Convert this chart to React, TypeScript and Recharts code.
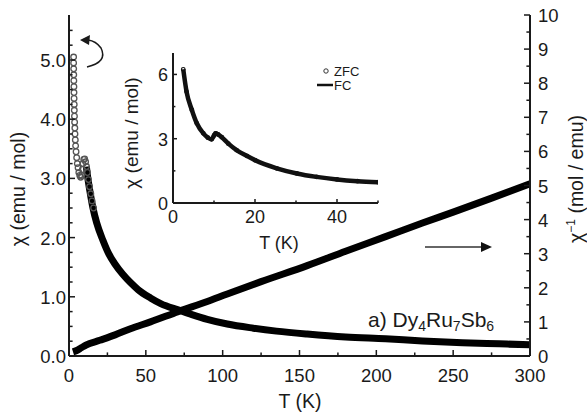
import React from "react";
import {
  ComposedChart,
  Line,
  Scatter,
  XAxis,
  YAxis,
} from "recharts";

// main panel: chi (left axis) vs T
const CHI_T = [11.3, 12, 13.5, 15.6, 18, 22, 26, 30, 35, 40, 45, 53, 60, 71, 80, 90, 103, 120, 135, 155, 180, 206, 230, 256, 280, 300];
const CHI_V = [3.2, 3.05, 2.8, 2.5, 2.25, 1.96, 1.72, 1.55, 1.38, 1.24, 1.12, 0.98, 0.88, 0.78, 0.7, 0.62, 0.54, 0.47, 0.42, 0.37, 0.32, 0.29, 0.255, 0.225, 0.205, 0.19];

// low temperature open circles
const LOW_T = [3.0, 3.0, 3.05, 3.1, 3.15, 3.2, 3.25, 3.3, 3.4, 3.45, 3.55, 3.65, 3.8, 3.9, 4.1, 4.3, 4.6, 5.0, 5.4, 5.9, 6.4, 7.0, 7.6, 8.2, 8.7, 9.1, 9.6, 10.2, 10.8, 11.4, 12, 12.7, 13.4, 14.2, 15, 16];
const LOW_V = [5.05, 4.95, 4.85, 4.75, 4.65, 4.55, 4.45, 4.35, 4.25, 4.15, 4.05, 3.95, 3.85, 3.75, 3.65, 3.55, 3.45, 3.35, 3.25, 3.18, 3.1, 3.05, 3.02, 3.05, 3.15, 3.25, 3.32, 3.33, 3.28, 3.2, 3.1, 2.98, 2.86, 2.74, 2.62, 2.5];

// inverse susceptibility (right axis)
const INV_T = [2.6, 5, 8, 11, 20, 30, 40, 53, 71, 90, 103, 125, 155, 180, 206, 230, 250, 275, 300];
const INV_V = [0.12, 0.16, 0.24, 0.32, 0.46, 0.62, 0.8, 1.0, 1.3, 1.6, 1.82, 2.18, 2.65, 3.07, 3.5, 3.9, 4.22, 4.63, 5.05];

// inset: ZFC / FC
const INS_T = [2.5, 3.3, 4.6, 5.8, 7.4, 8.5, 9.4, 10.0, 10.4, 11.0, 11.9, 13.5, 15.5, 18, 20, 25.3, 30.2, 35, 40, 45, 50];
const INS_FC = [6.24, 5.2, 4.34, 3.72, 3.25, 3.05, 2.97, 3.15, 3.25, 3.2, 3.07, 2.77, 2.47, 2.2, 2.0, 1.62, 1.38, 1.22, 1.1, 1.02, 0.97];
const INS_ZFC = [6.24, 5.2, 4.34, 3.72, 3.25, 3.05, 2.97, 3.15, 3.25, 3.2, 3.07, 2.77, 2.47, 2.2, 2.0, 1.62, 1.38, 1.22, 1.1, 1.02, 0.97];

const X_TICKS = [0, 25, 50, 75, 100, 125, 150, 175, 200, 225, 250, 275, 300];
const CHI_TICKS = Array.from({ length: 23 }, (_, i) => i * 0.25);
const INV_TICKS = Array.from({ length: 21 }, (_, i) => i * 0.5);
const INS_X_TICKS = [0, 10, 20, 30, 40, 50];
const INS_Y_TICKS = [0, 1.5, 3, 4.5, 6];

const FONT = "'Liberation Sans', Arial, sans-serif";
const INK = "#1a1a1a";

const chiData = CHI_T.map((T, i) => ({ T, v: CHI_V[i] }));
const lowData = LOW_T.map((T, i) => ({ T, v: LOW_V[i] }));
const invData = INV_T.map((T, i) => ({ T, v: INV_V[i] }));
const fcData = INS_T.map((T, i) => ({ T, v: INS_FC[i] }));
const zfcData = INS_T.map((T, i) => ({ T, v: INS_ZFC[i] }));

const isInt = (v: number, step: number) => Math.abs(v / step - Math.round(v / step)) < 1e-6;

function tickFactory(
  side: "left" | "right" | "bottom",
  step: number,
  fmt: (v: number) => string,
  len: number,
  fs: number,
  gap: number,
) {
  return (props: any) => {
    const { x, y, payload } = props;
    const v = payload.value as number;
    const major = isInt(v, step);
    const l = major ? len : len * 0.6;
    if (side === "bottom") {
      return (
        <g>
          <line x1={x} x2={x} y1={y} y2={y - l} stroke={INK} strokeWidth={1.5} />
          {major && (
            <text x={x} y={y + gap} textAnchor="middle" fontSize={fs} fontFamily={FONT} fill={INK}>
              {fmt(v)}
            </text>
          )}
        </g>
      );
    }
    const dir = side === "left" ? 1 : -1;
    return (
      <g>
        <line x1={x} x2={x + dir * l} y1={y} y2={y} stroke={INK} strokeWidth={1.5} />
        {major && (
          <text
            x={side === "left" ? x - gap : x + gap}
            y={y + fs * 0.38}
            textAnchor={side === "left" ? "end" : "start"}
            fontSize={fs}
            fontFamily={FONT}
            fill={INK}
          >
            {fmt(v)}
          </text>
        )}
      </g>
    );
  };
}

const openCircle = (stroke: string, r: number, sw: number) => (props: any) => (
  <circle cx={props.cx} cy={props.cy} r={r} fill="none" stroke={stroke} strokeWidth={sw} />
);

function Inset() {
  return (
    <div style={{ position: "absolute", left: 120, top: 40 }}>
      <ComposedChart width={270} height={215} margin={{ top: 13, right: 12, bottom: 0, left: 0 }}>
        <XAxis
          dataKey="T"
          type="number"
          domain={[0, 50]}
          ticks={INS_X_TICKS}
          interval={0}
          allowDataOverflow
          height={52}
          tickSize={0}
          tickMargin={0}
          tickLine={false}
          axisLine={{ stroke: INK, strokeWidth: 2 }}
          tick={tickFactory("bottom", 20, (v) => String(v), 4, 18, 20)}
        />
        <XAxis xAxisId="top" orientation="top" type="number" domain={[0, 50]} height={0} tick={false} tickLine={false} axisLine={{ stroke: INK, strokeWidth: 2 }} />
        <YAxis
          yAxisId="c"
          type="number"
          domain={[0, 7]}
          ticks={INS_Y_TICKS}
          interval={0}
          allowDataOverflow
          width={53}
          tickSize={0}
          tickMargin={0}
          tickLine={false}
          axisLine={{ stroke: INK, strokeWidth: 2 }}
          tick={tickFactory("left", 3, (v) => String(v), 4, 18, 5)}
        />
        <YAxis yAxisId="r" orientation="right" type="number" domain={[0, 7]} width={0} tick={false} tickLine={false} axisLine={{ stroke: INK, strokeWidth: 2 }} />
        <Line
          yAxisId="c"
          data={fcData}
          dataKey="v"
          stroke="#111"
          strokeWidth={4.5}
          dot={false}
          type="monotone"
          isAnimationActive={false}
        />
        <Scatter
          yAxisId="c"
          data={zfcData}
          dataKey="v"
          shape={openCircle("#111", 1.8, 1.2)}
          isAnimationActive={false}
        />
        <text x={279 - 120} y={249 - 40} textAnchor="middle" fontSize={18} fontFamily={FONT} fill={INK}>
          T (K)
        </text>
        <text
          transform={`translate(${138 - 120},${133 - 40}) rotate(-90)`}
          textAnchor="middle"
          fontSize={19}
          fontFamily={FONT}
          fill={INK}
        >
          χ (emu / mol)
        </text>
        <circle cx={326 - 120} cy={71 - 40} r={2.2} fill="none" stroke="#333" strokeWidth={1} />
        <text x={334 - 120} y={76 - 40} fontSize={13} fontFamily={FONT} fill={INK}>
          ZFC
        </text>
        <line x1={317 - 120} x2={333 - 120} y1={85 - 40} y2={85 - 40} stroke="#111" strokeWidth={2.5} />
        <text x={334 - 120} y={90 - 40} fontSize={13} fontFamily={FONT} fill={INK}>
          FC
        </text>
      </ComposedChart>
    </div>
  );
}

export default function App() {
  return (
    <div style={{ position: "absolute", left: 0, top: 0, width: 587, height: 418, background: "#fff" }}>
      <ComposedChart width={587} height={418} margin={{ top: 15, right: 0, bottom: 0, left: 0 }}>
        <XAxis
          dataKey="T"
          type="number"
          domain={[0, 300]}
          ticks={X_TICKS}
          interval={0}
          allowDataOverflow
          height={62}
          tickSize={0}
          tickMargin={0}
          tickLine={false}
          axisLine={{ stroke: INK, strokeWidth: 2 }}
          tick={tickFactory("bottom", 50, (v) => String(v), 6, 18.5, 26)}
        />
        <XAxis xAxisId="top" orientation="top" type="number" domain={[0, 300]} height={0} tick={false} tickLine={false} axisLine={{ stroke: INK, strokeWidth: 2 }} />
        <YAxis
          yAxisId="chi"
          type="number"
          domain={[0, 5.76]}
          ticks={CHI_TICKS}
          interval={0}
          allowDataOverflow
          width={69}
          tickSize={0}
          tickMargin={0}
          tickLine={false}
          axisLine={{ stroke: INK, strokeWidth: 2 }}
          tick={tickFactory("left", 1, (v) => v.toFixed(1), 6, 18.5, 3)}
        />
        <YAxis
          yAxisId="inv"
          orientation="right"
          type="number"
          domain={[0, 10]}
          ticks={INV_TICKS}
          interval={0}
          allowDataOverflow
          width={57}
          tickSize={0}
          tickMargin={0}
          tickLine={false}
          axisLine={{ stroke: INK, strokeWidth: 2 }}
          tick={tickFactory("right", 1, (v) => String(v), 6, 18.5, 8)}
        />
        <Line
          yAxisId="inv"
          data={invData}
          dataKey="v"
          stroke="#000"
          strokeWidth={7}
          dot={false}
          type="monotone"
          isAnimationActive={false}
        />
        <Line
          yAxisId="chi"
          data={chiData}
          dataKey="v"
          stroke="#000"
          strokeWidth={7}
          dot={false}
          type="monotone"
          isAnimationActive={false}
        />
        <Scatter
          yAxisId="chi"
          data={lowData}
          dataKey="v"
          shape={openCircle("#555", 2.8, 1.3)}
          isAnimationActive={false}
        />
        {/* axis titles */}
        <text x={300} y={408} textAnchor="middle" fontSize={19.5} fontFamily={FONT} fill={INK}>
          T (K)
        </text>
        <text transform="translate(25,189) rotate(-90)" textAnchor="middle" fontSize={19.5} fontFamily={FONT} fill={INK}>
          χ (emu / mol)
        </text>
        <text transform="translate(583,179) rotate(-90)" textAnchor="middle" fontSize={19.5} fontFamily={FONT} fill={INK}>
          χ
          <tspan fontSize={12} dy={-8}>−1</tspan>
          <tspan dy={8}> (mol / emu)</tspan>
        </text>
        {/* sample label */}
        <text x={368} y={327} fontSize={21} fontFamily={FONT} fill={INK}>
          a) Dy<tspan fontSize={14} dy={4}>4</tspan>
          <tspan dy={-4}>Ru</tspan>
          <tspan fontSize={14} dy={4}>7</tspan>
          <tspan dy={-4}>Sb</tspan>
          <tspan fontSize={14} dy={4}>6</tspan>
        </text>
        {/* arrows */}
        <path d="M 87 67 Q 108 62 101 48 Q 96 41 88 40" fill="none" stroke={INK} strokeWidth={1.5} />
        <polygon points="80,40 90,35 89,45" fill={INK} />
        <line x1={425} x2={484} y1={247} y2={247} stroke="#333" strokeWidth={1.5} />
        <polygon points="492,247 481,242 481,252" fill="#111" />
      </ComposedChart>
      <Inset />
    </div>
  );
}
